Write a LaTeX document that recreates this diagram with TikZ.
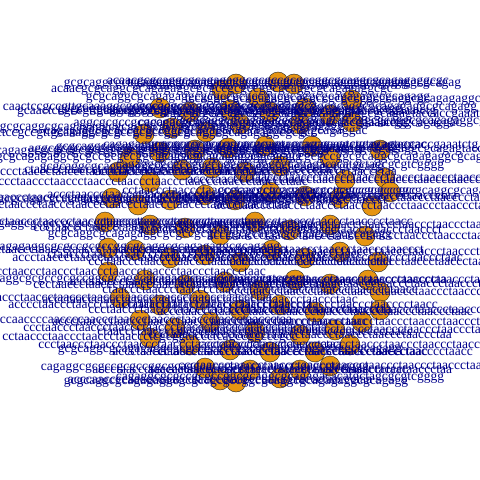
\documentclass[tikz,border=0pt]{standalone}
\usepackage{fontspec}
\setmainfont{Liberation Serif}
\definecolor{vfill}{RGB}{230,149,18}
\definecolor{vlab}{RGB}{0,0,139}
% k-mer labels
\def\seqA{ccctaaccctaaccctaaccctaaccctaaccctaaccctaaccctaaccctaa}
\def\seqB{accctaaccctaaccctaaccctaaccctaaccctaaccctaaccctaaccctaac}
\def\seqC{gcgcaggcgcagagaggcgcgccgcgccggcgcaggcgcagagaggcgcagagg}
\def\seqD{gcaactccgccgttgcaaaggcgcgccgcgccggcgcaggcgcagagaggcgcgcc}
\def\seqE{acaacgcgcaggcgcagagaggcgcgccgcgccggcgcaggcgcagagaggcgc}
\def\seqF{cagagaggcgcgccgcgccggcgcagagtaccaccgaaatctgtgcagaggac}
\def\seqG{ctaaccctaaccctaacccctaaccctaaccctaaccctaaccctaacccctaacc}
\def\seqH{tccagggcgcagagaggcgcgccgcgccggcgcaggcgcagagaggcgcagag}
\def\seqI{acccctaaccctaaccctaaccctaaccctaaccctaaccctaaccctaaccct}
\def\seqJ{aggcgcgccgcgccggcgcaggcgcagagaggcgcagagtaccaccgaaatctg}
\def\seqK{acccaaccccaaccccaaccctaaccctaaccctaaccctaccctaaccctaa}
\def\seqL{caactccgccgttgcaaaggcgcgccgcgccggcgcaggcgcagagaggcg}
\def\seqM{cctaaccctaaccctaaccctaaccctcgcggtaccctcagccggcccgcc}
\def\seqN{cagaggcgcgccgcgccggcgcaggcgcagagacacatgctagcgcgtcgggg}
% vertices: x/y/label
\def\vlist{222/90/\seqE, 236/84/\seqC, 278/82/\seqE, 294/84/\seqH, 258/98/\seqC,
160/108/\seqL, 190/112/\seqD, 230/110/\seqC, 270/112/\seqJ, 305/108/\seqC, 352/100/\seqH,
144/134/\seqD, 172/128/\seqC, 206/132/\seqF, 240/124/\seqJ, 300/124/\seqF, 352/122/\seqC, 330/115/\seqJ,
130/158/\seqC, 160/152/\seqN, 195/150/\seqJ, 228/148/\seqC, 265/146/\seqF, 312/146/\seqJ, 330/158/\seqC, 380/150/\seqJ,
118/172/\seqA, 150/182/\seqB, 182/170/\seqG, 212/168/\seqC, 245/172/\seqA, 280/166/\seqN, 345/180/\seqB, 385/178/\seqA, 390/192/\seqC,
112/198/\seqG, 138/205/\seqA, 170/200/\seqC, 205/195/\seqB, 235/200/\seqI, 270/192/\seqM, 305/196/\seqA, 340/198/\seqG, 372/206/\seqB,
105/222/\seqB, 150/225/\seqN, 185/228/\seqA, 220/235/\seqC, 255/222/\seqG, 290/230/\seqI, 330/225/\seqA, 365/236/\seqB,
108/248/\seqC, 135/250/\seqA, 170/258/\seqB, 205/255/\seqG, 240/262/\seqA, 272/250/\seqI, 305/258/\seqB, 340/252/\seqA, 378/262/\seqG,
108/272/\seqB, 145/280/\seqN, 185/285/\seqA, 225/282/\seqB, 260/290/\seqG, 295/280/\seqA, 330/284/\seqI, 368/280/\seqB, 380/292/\seqA,
120/298/\seqA, 160/305/\seqI, 200/300/\seqB, 240/310/\seqA, 280/305/\seqG, 315/312/\seqB, 380/310/\seqA, 362/322/\seqI,
140/320/\seqK, 175/328/\seqA, 210/322/\seqB, 255/332/\seqG, 300/335/\seqA, 335/330/\seqB,
150/338/\seqM, 190/345/\seqA, 230/350/\seqC, 270/352/\seqB, 315/352/\seqG, 350/345/\seqA,
205/368/\seqN, 220/380/\seqK, 236/382/\seqC, 250/370/\seqB, 280/378/\seqN, 300/370/\seqK, 330/366/\seqA}
\begin{document}
\begin{tikzpicture}[x=1bp,y=-1bp,
  vtx/.style={circle,draw=black!85,line width=0.4bp,fill=vfill,minimum size=20bp,inner sep=0pt},
  lab/.style={text=vlab,font=\fontsize{13.5bp}{15bp}\selectfont,inner sep=0pt}]
\useasboundingbox (0,0) rectangle (480,480);
\foreach \x/\y/\s [count=\i] in \vlist
  \node[vtx] (v\i) at (\x,\y) {};
\foreach \x/\y/\s [count=\i] in \vlist
  \node[lab] (l\i) at (v\i) {\s};
\end{tikzpicture}
\end{document}
